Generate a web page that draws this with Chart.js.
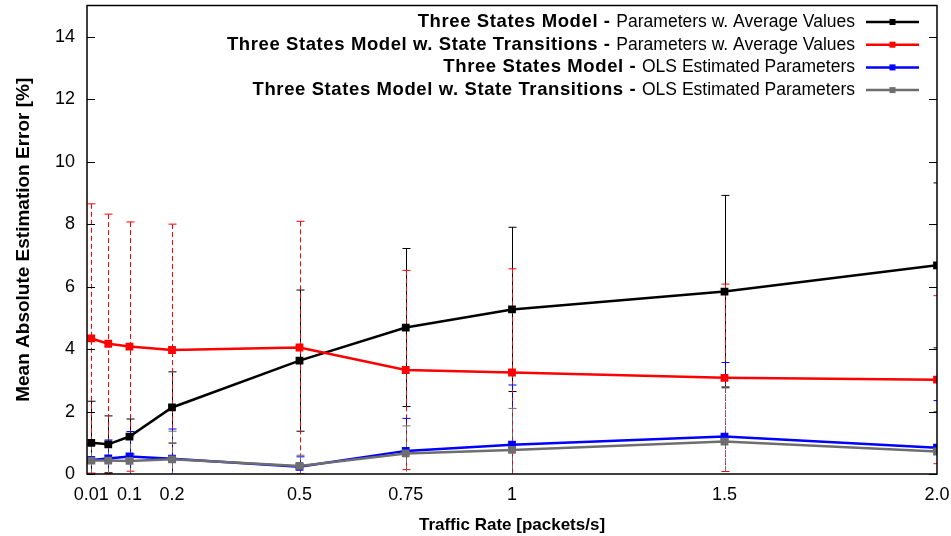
<!DOCTYPE html>
<html>
<head>
<meta charset="utf-8">
<script src="https://cdn.jsdelivr.net/npm/chart.js@4.4.1/dist/chart.umd.min.js"></script>
<style>
  html, body { margin: 0; padding: 0; background: #fff; }
  #wrap { width: 951px; height: 536px; }
</style>
</head>
<body>
<div id="wrap"><canvas id="errorChart"></canvas></div>
<script>
// traffic rates (packets/s) and axis ticks
var rates = [0.01, 0.05, 0.1, 0.2, 0.5, 0.75, 1, 1.5, 2.0];
var xTickValues = [0.01, 0.1, 0.2, 0.5, 0.75, 1, 1.5, 2.0];
var xTickText = ["0.01", "0.1", "0.2", "0.5", "0.75", "1", "1.5", "2.0"];
var yTickValues = [0, 2, 4, 6, 8, 10, 12, 14];

// mean absolute estimation error [%] and half-width of the error bars
var threeAvg = [1.0, 0.95, 1.2, 2.13, 3.63, 4.69, 5.27, 5.84, 6.68];
var threeAvgErr = [1.33, 0.91, 0.56, 1.14, 2.26, 2.53, 2.63, 3.08, 2.64];
var transAvg = [4.34, 4.17, 4.08, 3.97, 4.05, 3.33, 3.25, 3.08, 3.02];
var transAvgErr = [4.31, 4.15, 3.99, 4.03, 4.04, 3.19, 3.32, 3.0, 2.69];
var threeOls = [0.45, 0.5, 0.56, 0.49, 0.23, 0.74, 0.94, 1.2, 0.84];
var threeOlsErr = [0.5, 0.59, 0.8, 0.95, 0.32, 1.04, 1.91, 2.37, 1.51];
var transOls = [0.43, 0.43, 0.42, 0.47, 0.26, 0.66, 0.77, 1.04, 0.72];
var transOlsErr = [0.5, 0.52, 0.8, 0.9, 0.34, 0.88, 1.33, 1.76, 1.28];

var modelNames = ["Three States Model - ", "Three States Model w. State Transitions - ",
  "Three States Model - ", "Three States Model w. State Transitions - "];
var paramNames = ["Parameters w. Average Values", "Parameters w. Average Values",
  "OLS Estimated Parameters", "OLS Estimated Parameters"];

Chart.defaults.font.family = "'Liberation Sans', Arial, Helvetica, sans-serif";
Chart.defaults.color = "#000";

function makeSeries(idx, values, errs, color, dashed) {
  return {
    label: modelNames[idx] + paramNames[idx],
    data: rates.map(function (r, i) { return { x: r, y: values[i] }; }),
    errs: errs,
    errDashed: dashed,
    borderColor: color,
    backgroundColor: color,
    borderWidth: 2.5,
    pointStyle: "rect",
    pointRadius: 5.5,
    pointBorderWidth: 0,
    tension: 0,
    order: 4 - idx,
  };
}

var datasets = [
  makeSeries(0, threeAvg, threeAvgErr, "#000000", false),
  makeSeries(1, transAvg, transAvgErr, "#ff0000", true),
  makeSeries(2, threeOls, threeOlsErr, "#0000ff", true),
  makeSeries(3, transOls, transOlsErr, "#6e6e6e", true),
];

// vertical error bars, drawn under the lines
var errorBars = {
  id: "errorBars",
  beforeDatasetsDraw: function (chart) {
    var ctx = chart.ctx, area = chart.chartArea;
    var xs = chart.scales.x, ys = chart.scales.y;
    ctx.save();
    ctx.beginPath();
    ctx.rect(area.left, area.top, area.right - area.left, area.bottom - area.top);
    ctx.clip();
    chart.data.datasets.forEach(function (ds) {
      ctx.strokeStyle = ds.borderColor;
      ctx.lineWidth = 1;
      ds.data.forEach(function (p, i) {
        var px = Math.round(xs.getPixelForValue(p.x)) + 0.5;
        var hi = ys.getPixelForValue(p.y + ds.errs[i]);
        var lo = ys.getPixelForValue(p.y - ds.errs[i]);
        ctx.setLineDash(ds.errDashed ? [5, 3] : []);
        ctx.beginPath();
        ctx.moveTo(px, hi);
        ctx.lineTo(px, lo);
        ctx.stroke();
        ctx.setLineDash([]);
        ctx.beginPath();
        ctx.moveTo(px - 4, hi); ctx.lineTo(px + 4, hi);
        ctx.moveTo(px - 4, lo); ctx.lineTo(px + 4, lo);
        ctx.stroke();
      });
    });
    ctx.restore();
  },
};

// plot frame with inward tick marks, and the legend box
var frameAndLegend = {
  id: "frameAndLegend",
  afterDraw: function (chart) {
    var ctx = chart.ctx, area = chart.chartArea;
    var ys = chart.scales.y;
    ctx.save();
    ctx.strokeStyle = "#000";
    ctx.lineWidth = 1.5;
    ctx.strokeRect(area.left, area.top, area.right - area.left, area.bottom - area.top);
    ctx.lineWidth = 1;
    ctx.beginPath();
    yTickValues.forEach(function (v) {
      var py = Math.round(ys.getPixelForValue(v)) + 0.5;
      ctx.moveTo(area.left, py); ctx.lineTo(area.left + 8, py);
      ctx.moveTo(area.right, py); ctx.lineTo(area.right - 8, py);
    });
    ctx.stroke();

    var textRight = 855, lineLeft = 866, lineRight = 919;
    ctx.textBaseline = "middle";
    ctx.textAlign = "right";
    chart.data.datasets.forEach(function (ds, i) {
      var y = 22 + i * 22.7;
      ctx.fillStyle = "#000";
      ctx.letterSpacing = "0px";
      ctx.font = "17.5px 'Liberation Sans', Arial, sans-serif";
      ctx.fillText(paramNames[i], textRight, y);
      var w = ctx.measureText(paramNames[i]).width;
      ctx.letterSpacing = "0.6px";
      ctx.font = "bold 18.5px 'Liberation Sans', Arial, sans-serif";
      ctx.fillText(modelNames[i], textRight - w, y);
      ctx.letterSpacing = "0px";
      ctx.strokeStyle = ds.borderColor;
      ctx.lineWidth = 2.5;
      ctx.beginPath();
      ctx.moveTo(lineLeft, y); ctx.lineTo(lineRight, y);
      ctx.stroke();
      ctx.fillStyle = ds.borderColor;
      var mx = (lineLeft + lineRight) / 2;
      ctx.fillRect(mx - 3, y - 3, 6, 6);
    });
    ctx.restore();
  },
};

var ctxErr = document.getElementById("errorChart").getContext("2d");
var errorChart = new Chart(ctxErr, {
  type: "line",
  data: { datasets: datasets },
  options: {
    responsive: true,
    maintainAspectRatio: false,
    animation: false,
    layout: { padding: { top: 5, right: 14, left: 0, bottom: 0 } },
    plugins: { legend: { display: false }, tooltip: { enabled: false } },
    scales: {
      x: {
        type: "linear",
        min: 0,
        max: 2.0,
        grid: { display: false, drawTicks: false },
        border: { display: false },
        afterBuildTicks: function (scale) {
          scale.ticks = xTickValues.map(function (v) { return { value: v }; });
        },
        afterFit: function (scale) {
          scale.height = 62;
          scale.paddingLeft = 0;
          scale.paddingRight = 0;
        },
        ticks: {
          autoSkip: false,
          maxRotation: 0,
          padding: 10,
          font: { size: 18 },
          callback: function (value, index) { return xTickText[index]; },
        },
        title: {
          display: true,
          text: "Traffic Rate [packets/s]",
          font: { size: 17, weight: "bold" },
          padding: { top: 3, bottom: 0 },
        },
      },
      y: {
        min: 0,
        max: 15,
        grid: { display: false, drawTicks: false },
        border: { display: false },
        afterBuildTicks: function (scale) {
          scale.ticks = yTickValues.map(function (v) { return { value: v }; });
        },
        afterFit: function (scale) {
          scale.width = 87;
          scale.paddingTop = 0;
          scale.paddingBottom = 0;
        },
        ticks: { padding: 12, font: { size: 18 } },
        title: {
          display: true,
          text: "Mean Absolute Estimation Error [%]",
          font: { size: 19, weight: "bold" },
          padding: { top: 12, bottom: 0 },
        },
      },
    },
  },
  plugins: [errorBars, frameAndLegend],
});
</script>
</body>
</html>
